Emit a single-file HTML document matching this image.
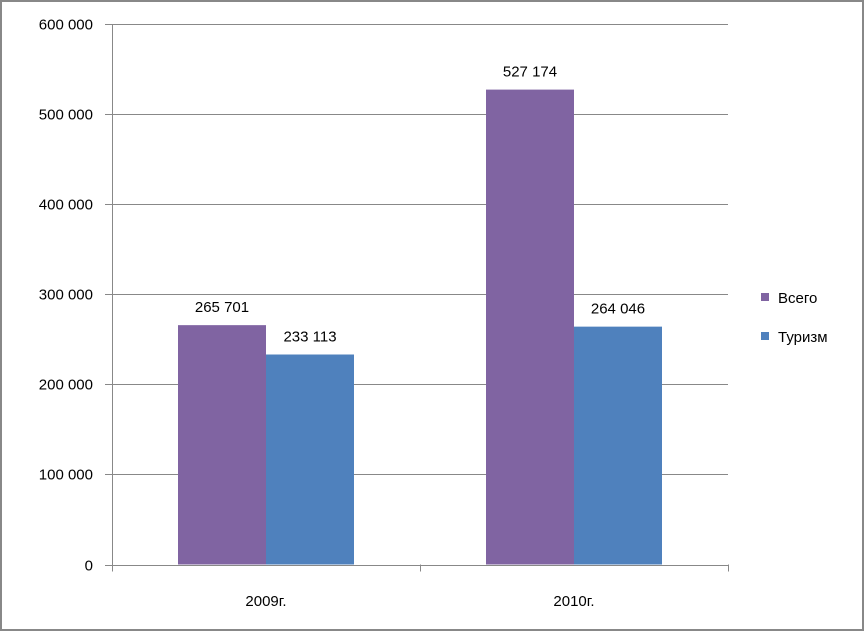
<!DOCTYPE html>
<html><head><meta charset="utf-8"><style>
body{margin:0;background:#fff}
svg text{font-family:"Liberation Sans",sans-serif;font-size:15px;fill:#000}
</style></head><body>
<svg id="chart" width="865" height="632">
<rect x="1" y="1" width="862" height="629" fill="#fff" stroke="#888" stroke-width="2"/>
<g id="grid"></g><g id="bars"></g><g id="labels"></g>
<g>
<rect x="761" y="293" width="8" height="8" fill="#8064A2"/>
<text x="778" y="303">Всего</text>
<rect x="761" y="332" width="8" height="8" fill="#4F81BD"/>
<text x="778" y="342">Туризм</text>
</g>
</svg>
<script>
const categories=["2009г.","2010г."];
const seriesTotal=[265701,527174];
const seriesTourism=[233113,264046];
const tickValues=[0,100000,200000,300000,400000,500000,600000];
const tickLabels=["0","100 000","200 000","300 000","400 000","500 000","600 000"];
const ns="http://www.w3.org/2000/svg";
const x0=112,x1=728,y0=564.5,y1=24,ymax=600000;
const yS=v=>y0-(y0-y1)*v/ymax;
const catW=(x1-x0)/categories.length;
function mk(t,a,p){const e=document.createElementNS(ns,t);for(const k in a)e.setAttribute(k,a[k]);p.appendChild(e);return e;}
const grid=document.getElementById('grid'),bars=document.getElementById('bars'),labels=document.getElementById('labels');
tickValues.forEach((v,i)=>{const y=Math.round(yS(v))+0.5;
 const l=mk('line',{x1:105,x2:x1,y1:y,y2:y,stroke:v===0?'#888':'#888','stroke-width':1},grid);
 
 
 const t=mk('text',{x:93,y:y+5,'text-anchor':'end'},grid);t.textContent=tickLabels[i];
 
 
});
const ax=mk('line',{x1:x0+0.5,x2:x0+0.5,y1:y1,y2:y0+7,stroke:'#888'},grid);


for(let i=0;i<=categories.length;i++){const x=Math.round(x0+i*catW)+0.5;
 const tk=mk('line',{x1:x,x2:x,y1:y0,y2:y0+7,stroke:'#888'},grid);
 
 
}
const fmt=v=>String(v).replace(/\B(?=(\d{3})+(?!\d))/g,' ');
const bw=88;
categories.forEach((c,i)=>{const cx=x0+i*catW+catW/2;
 [[seriesTotal,'#8064A2','bar-total'],[seriesTourism,'#4F81BD','bar-tourism']].forEach(([s,col,n],j)=>{
  const bx=cx-bw+j*bw,by=yS(s[i]);
  const r=mk('rect',{x:bx,y:by,width:bw,height:y0-by,fill:col},bars);
  
  
  const t=mk('text',{x:bx+bw/2,y:by-13,'text-anchor':'middle'},labels);t.textContent=fmt(s[i]);
  
  
 });
 const t=mk('text',{x:cx,y:606,'text-anchor':'middle'},labels);t.textContent=c;
 
 
});
</script>
</body></html>
